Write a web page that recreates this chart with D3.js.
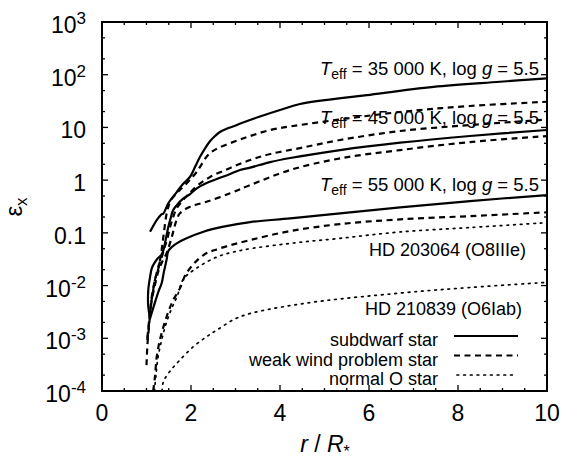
<!DOCTYPE html>
<html><head><meta charset="utf-8">
<script src="https://cdn.jsdelivr.net/npm/d3@7"></script>
<style>
html,body{margin:0;padding:0;background:#fff;}
svg text{font-family:"Liberation Sans",Arial,Helvetica,sans-serif;fill:#000;}
</style></head>
<body><svg id="c" width="565" height="463"></svg>
<script>
// ---- data (r / R*, epsilon_x) ----
const subdwarf35 = [[1.08,0.105],[1.23,0.175],[1.33,0.222],[1.38,0.234],[1.49,0.363],[1.68,0.594],[1.82,0.843],[1.98,1.16],[2.09,1.77],[2.20,2.74],[2.32,4.06],[2.43,5.52],[2.54,6.87],[2.65,8.18],[2.79,9.33],[2.94,10.4],[3.17,12.4],[3.55,16.1],[4.0,21.4],[4.45,27.8],[5.95,41],[7.45,59],[8.94,73.6],[10,85.5]];
const subdwarf45 = [[1.08,0.00239],[1.04,0.00396],[1.04,0.00822],[1.08,0.0145],[1.12,0.0215],[1.19,0.0279],[1.26,0.0333],[1.33,0.0379],[1.38,0.0472],[1.43,0.073],[1.49,0.129],[1.55,0.2],[1.60,0.271],[1.72,0.367],[1.83,0.452],[1.98,0.545],[2.13,0.698],[2.35,0.88],[2.58,1.05],[2.88,1.31],[3.10,1.56],[3.33,1.73],[3.78,2.2],[4.23,2.63],[5.35,3.72],[6.70,5.13],[8.27,6.87],[10,8.93]];
const subdwarf55 = [[1.08,0.00239],[1.15,0.00374],[1.23,0.00614],[1.28,0.00822],[1.34,0.011],[1.39,0.018],[1.45,0.0305],[1.49,0.0452],[1.57,0.0538],[1.68,0.0632],[1.90,0.0787],[2.28,0.105],[2.73,0.131],[3.33,0.16],[4.23,0.188],[5.35,0.234],[6.70,0.305],[8.27,0.401],[10,0.521]];
const weakWind1 = [[1.0,3.1e-4],[1.02,7.4e-4],[1.06,1.78e-3],[1.10,4.27e-3],[1.15,8.2e-3],[1.20,0.0139],[1.27,0.0215],[1.34,0.0472],[1.39,0.099],[1.46,0.248],[1.55,0.419],[1.66,0.545],[1.75,0.649],[1.93,0.92],[2.13,1.44],[2.35,2.78],[2.49,3.56],[2.65,4.19],[3.18,6.21],[3.78,8.93],[4.45,11.1],[6.70,19.6],[8.27,25.5],[10,30.7]];
const weakWind2 = [[1.02,9.2e-4],[1.07,2.42e-3],[1.12,6.3e-3],[1.19,0.0127],[1.27,0.0234],[1.35,0.0363],[1.40,0.0515],[1.46,0.073],[1.53,0.129],[1.60,0.2],[1.67,0.283],[1.80,0.401],[1.93,0.521],[2.13,0.773],[2.43,1.15],[2.88,1.7],[3.33,2.41],[3.78,3.13],[4.45,4.06],[5.35,5.77],[6.70,8.55],[8.27,11.1],[10,14.1]];
const weakWind3 = [[1.02,1.01e-3],[1.06,2.21e-3],[1.12,5.3e-3],[1.19,0.0102],[1.26,0.018],[1.35,0.0279],[1.45,0.0408],[1.57,0.0843],[1.66,0.16],[1.75,0.234],[1.98,0.313],[2.35,0.389],[2.88,0.562],[3.33,0.807],[4.23,1.56],[5.35,2.59],[6.70,3.72],[8.27,5.28],[10,6.87]];
const weakWind4 = [[1.15,1e-4],[1.19,1.86e-4],[1.23,4.46e-4],[1.30,9.2e-4],[1.38,1.65e-3],[1.49,3.18e-3],[1.60,5.3e-3],[1.75,8.85e-3],[1.90,0.0173],[2.28,0.0379],[2.65,0.0508],[3.33,0.073],[4.23,0.108],[5.35,0.147],[6.70,0.18],[8.27,0.208],[10,0.245]];
const normalO1 = [[1.18,1e-4],[1.21,1.92e-4],[1.26,4.4e-4],[1.34,9.2e-4],[1.43,1.78e-3],[1.55,3.43e-3],[1.69,6.3e-3],[1.83,0.0133],[2.13,0.0215],[2.58,0.0348],[3.10,0.0461],[4.23,0.0632],[5.35,0.0787],[6.70,0.104],[8.27,0.126],[10,0.156]];
const normalO2 = [[1.35,1e-4],[1.38,1.5e-4],[1.53,2.39e-4],[1.75,3.86e-4],[2.05,6.9e-4],[2.35,1.07e-3],[2.58,1.43e-3],[3.10,2.56e-3],[4.45,4.46e-3],[6.70,7.2e-3],[8.27,9.2e-3],[10,0.0115]];
const xTicks = [0,2,4,6,8,10];
const yTicks = [1e-4,1e-3,1e-2,0.1,1,10,100,1000];
const yTickBase = ["10","10","10","0.1","1","10","10","10"];
const yTickSup = ["-4","-3","-2","","","","2","3"];
const modelLabels = ["35 000","45 000","55 000"];
const modelLabelY = [97,11.5,0.63];
const starLabels = ["HD 203064 (O8IIIe)","HD 210839 (O6Iab)"];
const starLabelY = [0.0363,0.00275];
const legendNames = ["subdwarf star","weak wind problem star","normal O star"];

const svg = d3.select("#c");
const L=102,R=547,T=22,B=391;
const x = d3.scaleLinear().domain([0,10]).range([L,R]);
const y = d3.scaleLog().domain([1e-4,1e3]).range([B,T]);

const styles = {solid:{w:2.2,d:null},dashed:{w:2.2,d:"6,4.5"},dotted:{w:1.7,d:"1.7,5"}};
const series = [
  [subdwarf35,"solid"],[subdwarf45,"solid"],[subdwarf55,"solid"],
  [weakWind1,"dashed"],[weakWind2,"dashed"],[weakWind3,"dashed"],[weakWind4,"dashed"],
  [normalO1,"dotted"],[normalO2,"dotted"]];
const lineC = d3.line().x(d=>x(d[0])).y(d=>y(d[1])).curve(d3.curveCatmullRom.alpha(0.5));
svg.append("clipPath").attr("id","pc").append("rect").attr("x",L).attr("y",T).attr("width",R-L).attr("height",B-T);
const g = svg.append("g").attr("clip-path","url(#pc)");
series.forEach(([data,st])=>{
  g.append("path").attr("d",lineC(data)).attr("fill","none").attr("stroke","#000")
   .attr("stroke-width",styles[st].w).attr("stroke-dasharray",styles[st].d)
   .attr("stroke-linecap", st==="dotted"?"round":"butt");
});

// frame
svg.append("rect").attr("x",L).attr("y",T).attr("width",R-L).attr("height",B-T).attr("fill","none").attr("stroke","#000").attr("stroke-width",2);

// x ticks
d3.range(0,10.01,0.5).forEach(v=>{
  const major = Math.abs(v-Math.round(v/2)*2)<1e-6;
  const len = major?6:3;
  svg.append("line").attr("x1",x(v)).attr("x2",x(v)).attr("y1",B).attr("y2",B-len).attr("stroke","#000").attr("stroke-width",1.3);
  svg.append("line").attr("x1",x(v)).attr("x2",x(v)).attr("y1",T).attr("y2",T+len).attr("stroke","#000").attr("stroke-width",1.3);
});
xTicks.forEach(v=>{
  svg.append("text").attr("x",x(v)).attr("y",421).attr("text-anchor","middle").attr("font-size",23).text(v);
});
// y ticks
yTicks.forEach((v,i)=>{
  [L,R].forEach((px,k)=>{
    const dir = k===0?1:-1;
    svg.append("line").attr("x1",px).attr("x2",px+dir*6).attr("y1",y(v)).attr("y2",y(v)).attr("stroke","#000").attr("stroke-width",1.3);
    if(i<yTicks.length-1){
      [2,5].forEach(m=>{
        svg.append("line").attr("x1",px).attr("x2",px+dir*3).attr("y1",y(v*m)).attr("y2",y(v*m)).attr("stroke","#000").attr("stroke-width",1.3);
      });
    }
  });
  const t = svg.append("text").attr("x",86).attr("y",y(v)+11).attr("text-anchor","end").attr("font-size",23);
  t.append("tspan").text(yTickBase[i]);
  if(yTickSup[i]) t.append("tspan").attr("dy",-9).attr("font-size",17).text(yTickSup[i]);
});

// axis labels
const xl = svg.append("text").attr("x",325).attr("y",452).attr("text-anchor","middle").attr("font-size",23);
xl.append("tspan").attr("font-style","italic").text("r");
xl.append("tspan").text(" / ");
xl.append("tspan").attr("font-style","italic").text("R");
xl.append("tspan").attr("dy",5).attr("font-size",16).text("*");
const yl = svg.append("text").attr("transform","translate(22,207) rotate(-90)").attr("text-anchor","middle").attr("font-size",24);
yl.append("tspan").text("ε");
yl.append("tspan").attr("dy",5).attr("font-size",17).text("x");

// model labels
modelLabels.forEach((s,i)=>{
  const t = svg.append("text").attr("x",539).attr("y",y(modelLabelY[i])).attr("text-anchor","end").attr("font-size",18.5);
  t.append("tspan").attr("font-style","italic").text("T");
  t.append("tspan").attr("dy",4).attr("font-size",14).text("eff");
  t.append("tspan").attr("dy",-4).text(" = "+s+" K, log ");
  t.append("tspan").attr("font-style","italic").text("g");
  t.append("tspan").text(" = 5.5");
});
starLabels.forEach((s,i)=>{
  svg.append("text").attr("x",[526,522][i]).attr("y",y(starLabelY[i])).attr("text-anchor","end").attr("font-size",18).text(s);
});
// legend
const legStyles=["solid","dashed","dotted"];
legendNames.forEach((s,i)=>{
  const yy = 336+i*19.5;
  svg.append("text").attr("x",438).attr("y",yy+10).attr("text-anchor","end").attr("font-size",18).text(s);
  const st = styles[legStyles[i]];
  svg.append("line").attr("x1",legStyles[i]==="dotted"?457:454).attr("x2",legStyles[i]==="dotted"?514:518).attr("y1",yy).attr("y2",yy).attr("stroke","#000")
    .attr("stroke-width",st.w).attr("stroke-dasharray",st.d).attr("stroke-linecap",legStyles[i]==="dotted"?"round":"butt");
});
</script></body></html>
